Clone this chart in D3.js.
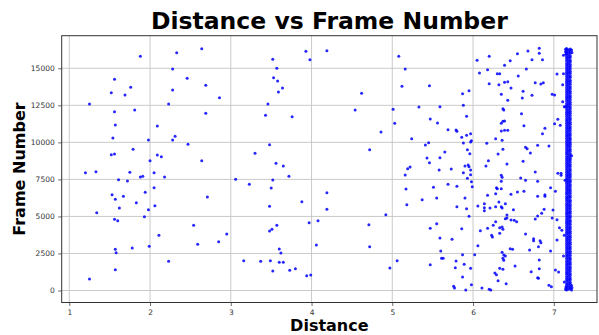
<!DOCTYPE html>
<html>
<head>
<meta charset="utf-8">
<script src="https://cdn.jsdelivr.net/npm/d3@7"></script>
<style>
  body { margin: 0; background: #fff; }
  svg { display: block; font-family: "DejaVu Sans", sans-serif; }
</style>
</head>
<body>
<script>
// [distance, frame], grouped by distance band
const near = [
  [1.88,15810],[1.56,14260],[1.76,13720],[1.52,13350],[1.69,13200],[1.25,12590],[1.81,12180],[1.56,12070],
  [2.09,11100],[1.57,11170],[1.54,10290],[1.98,10160],[1.79,9530],[1.52,9170],[1.56,9210],[2.09,9150],
  [2.00,8760],[1.20,7950],[1.33,8020],[1.75,7980],[2.05,7950],[1.88,7660],[1.91,7710],[1.61,7480],
  [1.72,7390],[2.05,6940],[1.94,6630],[1.53,6470],[1.67,6360],[1.57,6160],[1.83,5930],[2.06,5720],
  [1.62,5570],[1.98,5450],[1.34,5250],[1.93,4980],[1.56,4810],[1.60,4710],[2.11,3730],[1.78,2870],
  [1.99,2980],[1.57,2780],[1.58,2550],[1.57,1400],[1.25,780],
  [2.33,16050],[2.64,16320],[2.28,14950],[2.46,14320],[2.69,13850],[2.28,13530],[2.86,13010],[2.23,12590],
  [2.69,11960],[2.31,10410],[2.28,10160],[2.47,9870],[2.14,9030],[2.64,8760],[2.18,7660],[2.71,6310],
  [2.54,4400],[2.95,3810],[2.59,3120],[2.85,3290],[2.23,1970]
];

const mid = [
  [3.06,7510],[3.23,7170],[3.16,2010],[3.30,9260],
  [3.93,16150],[4.19,16190],[3.52,15610],[3.98,15580],[3.57,15000],[3.53,14360],[3.58,14140],[3.64,13670],
  [3.59,13400],[3.46,12590],[3.43,11830],[3.76,11730],[3.48,9840],[3.56,8590],[3.65,8400],[3.72,7710],
  [3.52,7460],[3.50,6920],[4.19,6600],[3.88,5990],[3.48,5680],[4.19,5480],[3.57,4400],[3.51,4130],
  [3.48,4020],[3.97,4580],[4.08,4710],[4.06,3070],[3.60,2800],[3.62,2530],[3.37,1970],[3.49,2010],
  [3.60,1900],[3.65,1900],[3.52,1320],[3.73,1360],[3.80,1470],[3.94,1000],[3.99,1050],
  [4.62,13310],[4.54,12180],[4.86,10700],[4.72,9500],[4.92,5120],[4.71,4440],[4.72,2960],[4.97,1520]
];

const far = [
  [5.08,15810],[5.16,14950],[5.12,13780],[5.46,13820],[5.01,12230],[5.33,12390],[5.59,12410],[5.47,11580],
  [5.56,11310],[5.03,11290],[5.24,10250],[5.41,9820],[5.45,9980],[5.65,9350],[5.43,8940],[5.46,8630],
  [5.59,8960],[5.19,8220],[5.22,8340],[5.16,7800],[5.58,8130],[5.17,6850],[5.51,6970],[5.37,6130],
  [5.55,6240],[5.18,5790],[5.55,4510],[5.47,4200],[5.59,3540],[5.60,2670],[5.61,2170],[5.63,2170],
  [5.06,2010],[5.47,1740],
  [5.87,13280],[5.95,13490],[5.88,12500],[5.92,11760],[5.69,10850],[5.79,10830],[5.80,10750],[5.86,10340],
  [5.92,10480],[5.97,10580],[5.98,10110],[5.97,10020],[5.88,9960],[5.93,9500],[5.96,9230],[5.90,8400],
  [5.94,8470],[5.95,8360],[5.73,8200],[5.88,7950],[5.97,8130],[5.97,7820],[5.93,7570],[5.98,7340],
  [5.69,7170],[5.80,7030],[5.99,7010],[5.90,6240],[5.80,5660],[5.92,5520],[5.95,5010],[5.86,4170],
  [5.74,3460],[5.87,2420],[5.79,1990],[5.89,1770],[5.78,1540],[5.97,1500],[5.87,910],[5.98,390],
  [5.76,280],[5.77,170],[5.91,30]
];

const farther = [
  [6.05,15540],[6.20,15810],[6.08,14680],[6.18,14900],[6.30,14630],[6.33,14630],[6.20,13960],[6.32,13890],
  [6.28,10250],[6.17,9940],[6.31,9210],[6.19,8760],[6.16,8400],[6.29,6940],[6.28,6530],[6.18,6430],
  [6.14,5860],[6.06,5700],[6.14,5590],[6.14,5390],[6.21,5570],[6.28,5660],[6.28,4640],[6.25,4400],
  [6.18,4200],[6.09,4040],[6.23,3730],[6.24,3610],[6.06,3020],[6.02,2420],[6.33,1500],[6.27,1180],
  [6.29,1070],[6.11,170],[6.20,80],[6.22,30],
  [6.82,16350],[6.82,16010],[6.68,16170],[6.55,15980],[6.73,15580],[6.86,15580],[6.46,15510],[6.39,15200],
  [6.66,14950],[6.56,14480],[6.39,14050],[6.43,14090],[6.77,14030],[6.84,13940],[6.87,14030],[6.47,13670],
  [6.62,13450],[6.35,13240],[6.61,12990],[6.43,12840],[6.73,13180],[6.98,13240],[7.01,13200],[6.37,12270],
  [6.38,12180],[6.60,11930],[6.35,11290],[6.37,11420],[6.39,11440],[6.35,10770],[6.39,10810],[6.43,10810],
  [6.63,11120],[6.89,10950],[6.86,10580],[7.01,11260],[6.36,10140],[6.65,9670],[6.67,9570],[6.37,9530],
  [6.80,9800],[6.94,9750],[6.71,9280],[6.62,8720],[6.42,8540],[6.77,8000],[6.35,7780],[6.36,7640],
  [6.59,7590],[6.65,7440],[6.80,7370],[6.35,7370],[6.30,6870],[6.35,6870],[6.96,6940],[6.47,6490],
  [6.55,6650],[6.63,6700],[6.80,6360],[6.89,6470],[6.89,6360],[6.32,5970],[6.35,5660],[6.36,5570],
  [6.40,5860],[6.50,5450],[6.88,5480],[6.99,5430],[6.42,5100],[6.42,4890],[6.40,4850],[6.47,4760],
  [6.51,4740],[6.54,4640],[6.77,4830],[6.80,5030],[6.85,5210],[6.98,4890],[6.33,4240],[6.36,4290],
  [6.37,4130],[6.33,3860],[6.65,3810],[6.75,3500],[6.75,3360],[6.83,3360],[6.84,3230],[6.81,2960],
  [6.70,2730],[6.46,2820],[6.49,2780],[6.96,2670],[6.36,2580],[6.38,2400],[6.40,2330],[6.37,2170],
  [6.38,2040],[6.82,2060],[6.52,1650],[6.37,1430],[6.82,1470],[6.72,1270],[6.31,660],[6.41,460],
  [6.80,860],[6.81,820],[6.94,350],[6.97,260],
  [7.12,15880],[7.04,14610],[7.12,14630],[7.11,13890],[7.11,12740],[7.13,12410],[7.05,11560],[7.08,11150],
  [7.05,7910],[7.09,7910],[7.09,7780],[7.14,7440],[7.02,6700],[7.04,4780],[7.07,4240],[7.10,4060],
  [7.13,3730],[7.04,3410],[7.12,2330],[7.02,1380],[7.06,1250],[7.13,570]
];

// the solid band at max distance: three columns of frames
const bandDistA = 7.158;
const bandFramesA = [
  40,190,330,480,640,780,930,1090,1230,1380,1540,1690,1830,1980,2140,2290,2430,2580,2740,2890,
  3030,3190,3340,3480,3630,3790,3940,4080,4230,4390,4540,4680,4830,4990,5140,5280,5440,5590,5730,5880,
  6040,6190,6330,6490,6640,6780,6930,7090,7240,7380,7540,7690,7830,7980,8140,8290,8430,8590,8740,8880,
  9030,9190,9340,9480,9640,9790,9930,10080,10240,10390,10530,10690,10840,10980,11130,11290,11440,11580,11740,11890,
  12030,12180,12340,12490,12630,12790,12940,13080,13230,13390,13540,13680,13840,13990,14130,14280,14440,14590,14730,14890,
  15040,15180,15330,15490,15640,15780,15940,16090,16230,16330
];
const bandDistB = 7.204;
const bandFramesB = [
  120,250,420,550,720,850,1020,1150,1320,1470,1600,1770,1900,2070,2200,2370,2520,2650,2820,2950,
  3120,3250,3420,3570,3700,3870,4000,4170,4300,4470,4620,4750,4920,5050,5220,5350,5520,5670,5800,5970,
  6100,6270,6400,6570,6720,6850,7020,7150,7320,7450,7620,7770,7900,8070,8200,8370,8500,8670,8820,8950,
  9120,9250,9420,9550,9720,9870,10000,10170,10300,10470,10600,10770,10920,11050,11220,11350,11520,11650,11820,11970,
  12100,12270,12400,12570,12700,12870,13020,13150,13320,13450,13620,13750,13920,14070,14200,14370,14500,14670,14800,14970,
  15120,15250,15420,15550,15720,15850,16020,16170,16300
];
const bandDistC = 7.181;
const bandFramesC = [
  80,220,370,510,680,810,970,1120,1270,1420,1570,1730,1870,2020,2170,2330,2470,2620,2780,2920,
  3070,3220,3380,3520,3670,3830,3970,4120,4270,4430,4580,4720,4870,5020,5180,5320,5480,5630,5770,5920,
  6070,6230,6370,6530,6680,6820,6970,7120,7280,7420,7580,7730,7870,8020,8170,8330,8470,8630,8780,8920,
  9070,9220,9380,9520,9680,9830,9970,10120,10270,10430,10570,10730,10880,11020,11170,11320,11480,11620,11780,11930,
  12070,12220,12380,12520,12670,12830,12970,13120,13270,13430,13570,13720,13870,14020,14170,14320,14470,14630,14770,14920,
  15070,15220,15370,15520,15680,15820,15970,16120,16260
];
const bandEdges = [
  [7.145,16280],[7.22,16240],[7.145,16120],[7.225,16060],[7.15,15950],
  [7.22,40],[7.145,90],[7.225,180],[7.15,230],[7.22,330],[7.145,12400],[7.22,9100]
];

const xTicks = [1, 2, 3, 4, 5, 6, 7];
const yTicks = [0, 2500, 5000, 7500, 10000, 12500, 15000];

const width = 599;
const height = 335;
const plotLeft = 61.7, plotRight = 597, plotTop = 35.7, plotBottom = 302.5;

const svg = d3.select("body").append("svg")
  .attr("width", width)
  .attr("height", height);

const xScale = d3.scaleLinear().domain([0.906, 7.535]).range([plotLeft, plotRight]);
const yScale = d3.scaleLinear().domain([-810, 17200]).range([plotBottom, plotTop]);

// grid
svg.append("g").selectAll("line")
  .data(xTicks).join("line")
  .attr("x1", d => xScale(d)).attr("x2", d => xScale(d))
  .attr("y1", plotTop).attr("y2", plotBottom)
  .attr("stroke", "#c4c4c4").attr("stroke-width", 0.9);
svg.append("g").selectAll("line")
  .data(yTicks).join("line")
  .attr("x1", plotLeft).attr("x2", plotRight)
  .attr("y1", d => yScale(d)).attr("y2", d => yScale(d))
  .attr("stroke", "#c4c4c4").attr("stroke-width", 0.9);

// points
const allPoints = near.concat(mid, far, farther,
  bandFramesA.map(f => [bandDistA, f]),
  bandFramesB.map(f => [bandDistB, f]),
  bandFramesC.map(f => [bandDistC, f]),
  bandEdges);

svg.append("g").selectAll("circle")
  .data(allPoints).join("circle")
  .attr("cx", d => xScale(d[0]))
  .attr("cy", d => yScale(d[1]))
  .attr("r", 1.5)
  .attr("fill", "#0000ff")
  .attr("fill-opacity", 0.85);

// axes
const xAxis = svg.append("g")
  .attr("transform", "translate(0," + plotBottom + ")")
  .call(d3.axisBottom(xScale).tickValues(xTicks).tickFormat(d3.format("d")).tickSize(3.5).tickPadding(3.5));
const yAxis = svg.append("g")
  .attr("transform", "translate(" + plotLeft + ",0)")
  .call(d3.axisLeft(yScale).tickValues(yTicks).tickFormat(d3.format("d")).tickSize(3.5).tickPadding(3.5));

[xAxis, yAxis].forEach(g => {
  g.select(".domain").remove();
  g.selectAll(".tick line").attr("stroke", "#444").attr("stroke-width", 0.8);
  g.selectAll(".tick text")
    .attr("fill", "#333")
    .style("font-family", "DejaVu Sans")
    .style("font-size", "7.5px");
});

// frame
svg.append("rect")
  .attr("x", plotLeft).attr("y", plotTop)
  .attr("width", plotRight - plotLeft).attr("height", plotBottom - plotTop)
  .attr("fill", "none")
  .attr("stroke", "#333")
  .attr("stroke-width", 1);

// titles
svg.append("text")
  .attr("x", (plotLeft + plotRight) / 2).attr("y", 29.3)
  .attr("text-anchor", "middle")
  .style("font-size", "23.5px").style("font-weight", "bold")
  .text("Distance vs Frame Number");

svg.append("text")
  .attr("x", (plotLeft + plotRight) / 2).attr("y", 331)
  .attr("text-anchor", "middle")
  .style("font-size", "16px").style("font-weight", "bold")
  .text("Distance");

svg.append("text")
  .attr("transform", "translate(25,169) rotate(-90)")
  .attr("text-anchor", "middle")
  .style("font-size", "16px").style("font-weight", "bold")
  .text("Frame Number");
</script>
</body>
</html>
